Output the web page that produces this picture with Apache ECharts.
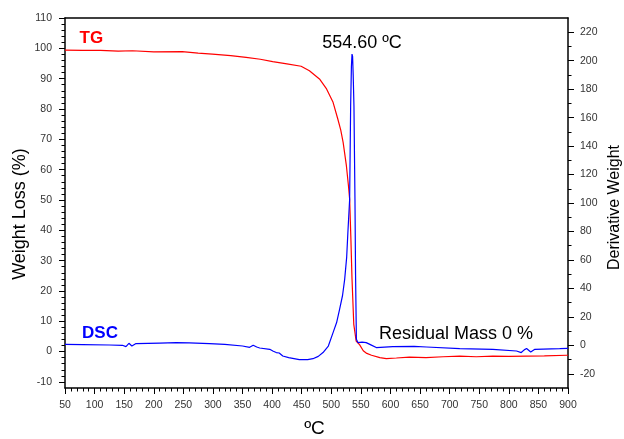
<!DOCTYPE html>
<html>
<head>
<meta charset="utf-8">
<script src="https://cdn.jsdelivr.net/npm/echarts@6/dist/echarts.min.js"></script>
<style>html,body{margin:0;padding:0;background:#fff;}#c{width:624px;height:439px;}</style>
</head>
<body>
<div id="c"></div>
<script>
// ---- data ----
const tgTemp = [50, 80, 110, 140, 164, 200, 248, 275, 299, 330, 356, 380, 401, 425, 449, 463, 480, 492, 503, 511, 516, 520, 525.5, 529, 531, 533, 535, 538, 542, 548, 554, 560, 568, 582, 593, 610, 632, 660, 689, 717, 745, 773, 800, 830, 860, 898, 900];
const tgValue = [99.4, 99.3, 99.3, 99.1, 99.2, 98.8, 98.9, 98.4, 98.1, 97.6, 97.0, 96.4, 95.6, 94.9, 94.1, 92.6, 89.9, 86.6, 82.2, 76.7, 73, 69, 61.3, 54.7, 50.3, 38, 24, 9, 3.5, 2.2, 0.3, -0.6, -1.2, -2.0, -2.3, -2.1, -1.8, -2.0, -1.7, -1.5, -1.7, -1.5, -1.6, -1.5, -1.4, -1.2, -1.2];
const dscTemp = [50, 80, 125, 147, 153, 158, 163, 170, 210, 238, 260, 294, 320, 350, 362, 368, 374, 379, 396, 402, 407, 412, 418, 428, 446, 460, 469, 478, 486, 495, 503, 509, 514, 519, 522.6, 526, 528, 531, 532.7, 534, 535, 536, 537, 538.3, 540, 541, 542.4, 545, 552, 559, 566, 576, 604, 640, 661, 717, 773, 813, 821, 826, 830, 833, 837, 844, 886, 900];
const dscValue = [0.7, 0.5, 0.2, 0, -0.9, 1.4, -0.5, 1.2, 1.6, 1.9, 1.7, 1.2, 0.6, -0.5, -1.4, 0, -1.2, -1.9, -2.8, -4.2, -5.1, -5.4, -7.5, -8.6, -10, -10, -9.4, -7.8, -5.1, -0.5, 8.9, 16, 25.3, 35, 46.3, 62, 79, 102.5, 168, 196, 204.6, 203, 190, 168, 102.5, 50, 4.2, 1.9, 2.2, 1.9, 0.5, -1.6, -0.9, -0.8, -1.2, -2.3, -2.8, -4, -5.1, -3.2, -2.3, -3.6, -4.7, -2.8, -2.3, -2.1];
const xRange = [50, 900];
const xInterval = 50;
const leftRange = [-12, 110];
const leftTicks = [-10, 110, 10];
const rightRange = [-30, 230];
const rightTicks = [-20, 220, 20];
const labels = {
  tg: 'TG', dsc: 'DSC', peak: '554.60 ºC', residual: 'Residual Mass 0 %',
  xName: 'ºC', leftName: 'Weight Loss (%)', rightName: 'Derivative Weight'
};

const zip = (a, b) => a.map((v, i) => [v, b[i]]);
const FONT = '"Liberation Sans", Arial, sans-serif';
const LBL = { fontSize: 10.5, color: '#333', fontFamily: FONT };

// main plot area geometry
const G = { left: 65, right: 56, top: 18, bottom: 51 };
const H = 439 - G.top - G.bottom;
const leftPx = H / (leftRange[1] - leftRange[0]);
const rightPx = H / (rightRange[1] - rightRange[0]);

const chart = echarts.init(document.getElementById('c'), null, { renderer: 'canvas' });
chart.setOption({
  animation: false,
  backgroundColor: '#fff',
  grid: [
    Object.assign({}, G),
    { left: G.left, right: G.right, top: G.top + (leftRange[1] - leftTicks[1]) * leftPx,
      bottom: G.bottom + (leftTicks[0] - leftRange[0]) * leftPx },
    { left: G.left, right: G.right, top: G.top + (rightRange[1] - rightTicks[1]) * rightPx,
      bottom: G.bottom + (rightTicks[0] - rightRange[0]) * rightPx }
  ],
  xAxis: [
    { type: 'value', gridIndex: 0, position: 'bottom', min: xRange[0], max: xRange[1], interval: xInterval,
      axisLine: { show: true, onZero: false, lineStyle: { color: '#000', width: 1.5 } },
      axisTick: { show: true, inside: false, length: 6, lineStyle: { color: '#000', width: 1 } },
      minorTick: { show: true, splitNumber: 5, length: 3.5, lineStyle: { color: '#000', width: 1 } },
      axisLabel: Object.assign({ margin: 12 }, LBL),
      splitLine: { show: false }
    },
    { type: 'value', gridIndex: 0, position: 'top', min: xRange[0], max: xRange[1],
      axisLine: { show: true, onZero: false, lineStyle: { color: '#000', width: 1.5 } },
      axisTick: { show: false }, axisLabel: { show: false }, splitLine: { show: false } },
    { type: 'value', gridIndex: 1, min: xRange[0], max: xRange[1], show: false,
      axisLine: { onZero: false } },
    { type: 'value', gridIndex: 2, min: xRange[0], max: xRange[1], show: false,
      axisLine: { onZero: false } }
  ],
  yAxis: [
    { type: 'value', gridIndex: 0, position: 'left', min: leftRange[0], max: leftRange[1],
      axisLine: { show: true, onZero: false, lineStyle: { color: '#000', width: 1.5 } },
      axisTick: { show: false }, axisLabel: { show: false }, splitLine: { show: false } },
    { type: 'value', gridIndex: 0, position: 'right', min: rightRange[0], max: rightRange[1],
      axisLine: { show: true, onZero: false, lineStyle: { color: '#000', width: 1.5 } },
      axisTick: { show: false }, axisLabel: { show: false }, splitLine: { show: false } },
    { type: 'value', gridIndex: 1, position: 'left', min: leftTicks[0], max: leftTicks[1], interval: leftTicks[2],
      axisLine: { show: false, onZero: false },
      axisTick: { show: true, inside: false, length: 6, lineStyle: { color: '#000', width: 1 } },
      minorTick: { show: true, splitNumber: 5, length: 3.5, lineStyle: { color: '#000', width: 1 } },
      axisLabel: Object.assign({ margin: 13 }, LBL),
      splitLine: { show: false } },
    { type: 'value', gridIndex: 2, position: 'right', min: rightTicks[0], max: rightTicks[1], interval: rightTicks[2],
      axisLine: { show: false, onZero: false },
      axisTick: { show: true, inside: false, length: 6, lineStyle: { color: '#000', width: 1 } },
      minorTick: { show: true, splitNumber: 2, length: 3.5, lineStyle: { color: '#000', width: 1 } },
      axisLabel: Object.assign({ margin: 12 }, LBL),
      splitLine: { show: false } }
  ],
  series: [
    { name: labels.tg, type: 'line', xAxisIndex: 0, yAxisIndex: 0, data: zip(tgTemp, tgValue),
      showSymbol: false, symbol: 'none', lineStyle: { color: '#ff0000', width: 1.2 }, z: 3 },
    { name: labels.dsc, type: 'line', xAxisIndex: 0, yAxisIndex: 1, data: zip(dscTemp, dscValue),
      showSymbol: false, symbol: 'none', lineStyle: { color: '#0000ff', width: 1.2 }, z: 4 }
  ],
  graphic: [
    { type: 'text', x: 91.3, y: 38.5, style: { text: labels.tg, font: 'bold 17px ' + FONT, fill: '#ff0000', align: 'center', verticalAlign: 'middle' } },
    { type: 'text', x: 100, y: 333, style: { text: labels.dsc, font: 'bold 17px ' + FONT, fill: '#0000ff', align: 'center', verticalAlign: 'middle' } },
    { type: 'text', x: 362, y: 43, style: { text: labels.peak, font: '18px ' + FONT, fill: '#000', align: 'center', verticalAlign: 'middle' } },
    { type: 'text', x: 456, y: 334.5, style: { text: labels.residual, font: '18px ' + FONT, fill: '#000', align: 'center', verticalAlign: 'middle' } },
    { type: 'text', x: 314.5, y: 429, style: { text: labels.xName, font: '19px ' + FONT, fill: '#000', align: 'center', verticalAlign: 'middle' } },
    { type: 'text', x: 20, y: 214, rotation: Math.PI / 2, style: { text: labels.leftName, font: '18px ' + FONT, fill: '#000', align: 'center', verticalAlign: 'middle' } },
    { type: 'text', x: 614.5, y: 207.5, rotation: Math.PI / 2, style: { text: labels.rightName, font: '16px ' + FONT, fill: '#000', align: 'center', verticalAlign: 'middle' } }
  ]
});
</script>
</body>
</html>
